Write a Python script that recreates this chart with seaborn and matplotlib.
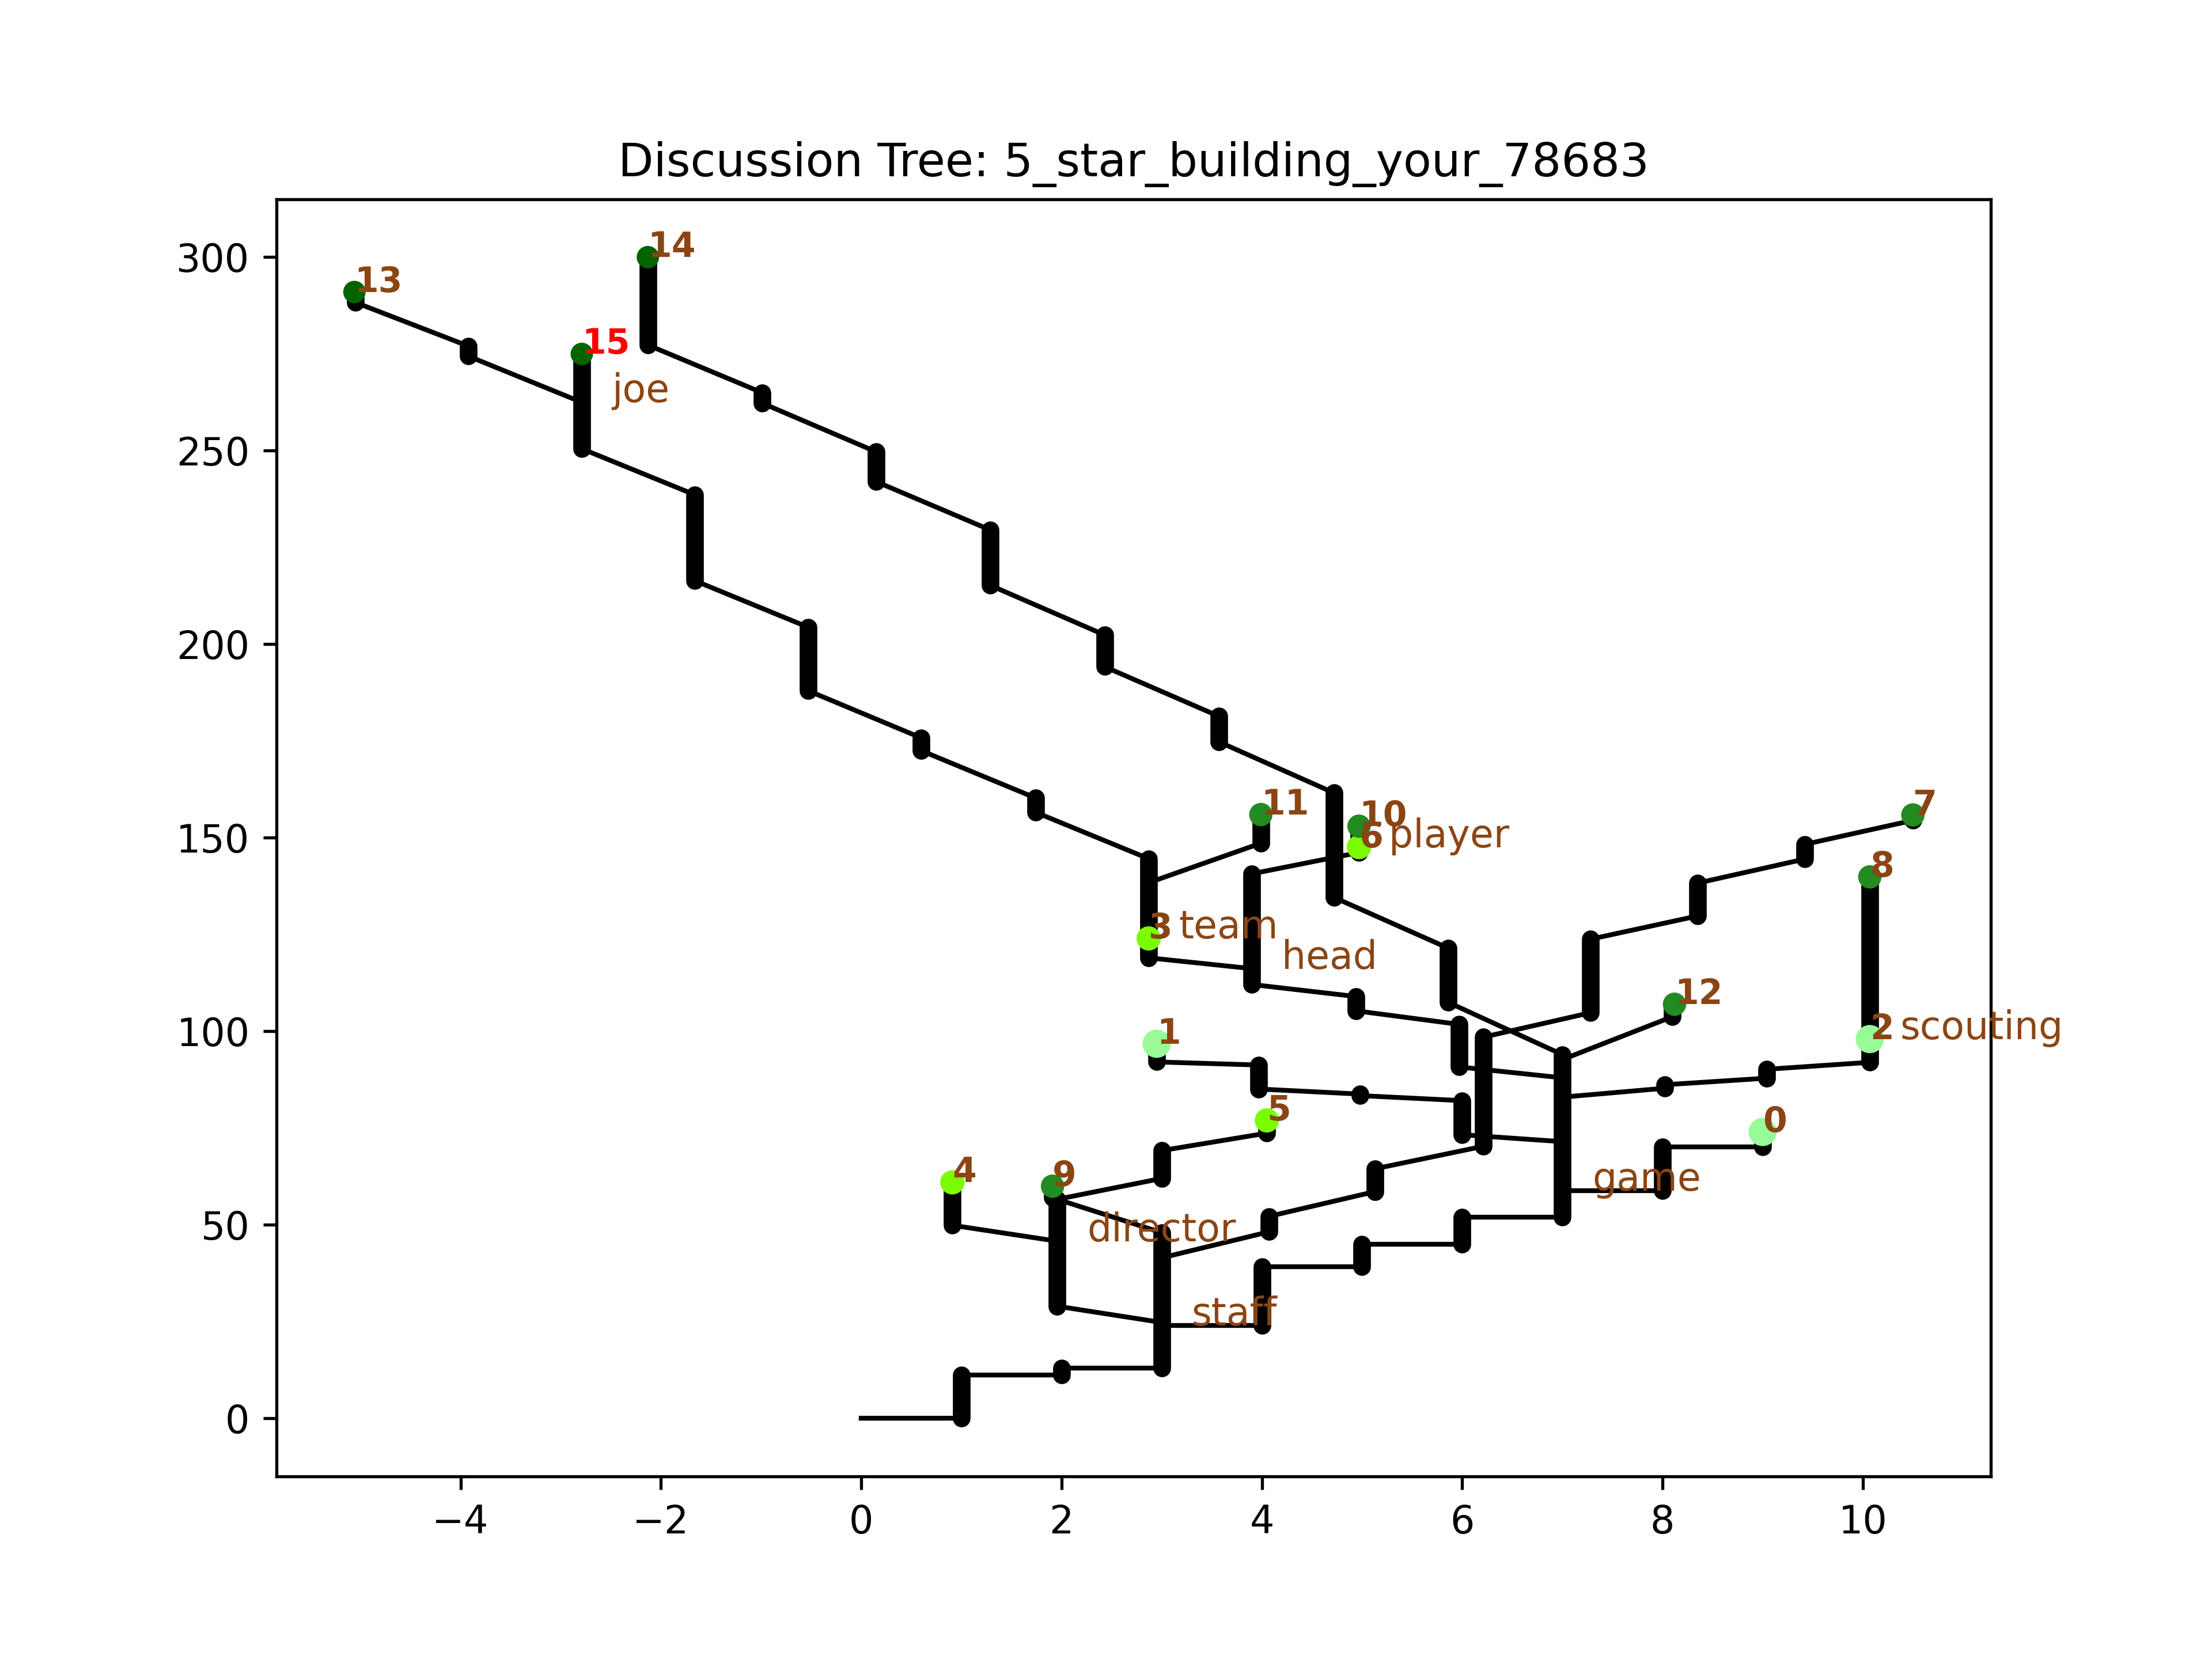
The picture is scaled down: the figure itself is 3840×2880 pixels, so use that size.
import numpy as np
import pandas as pd
import matplotlib
matplotlib.use("Agg")
import matplotlib.pyplot as plt
import seaborn as sns

# thick vertical steps: x position, lower end, upper end
bar_x = [1.0, 2.0, 3.0, 4.0, 5.0, 6.0, 7.0, 8.0, 9.0,
         1.955, 1.91, 0.91, 3.0, 4.05,
         4.07, 5.13, 6.21, 7.28, 8.35, 9.42, 10.5,
         8.02, 9.04, 10.07, 8.1,
         6.0, 4.98, 3.97, 2.95,
         5.97, 4.94, 3.9, 2.87, 3.99, 4.97,
         1.74, 0.60, -0.53, -1.66, -2.79, -3.92, -5.05,
         5.86, 4.72, 3.57, 2.43, 1.29, 0.15, -0.99, -2.13]
bar_lo = [0.0, 11.2, 13.0, 24.0, 39.2, 45.0, 52.0, 58.8, 70.2,
          29.0, 57.0, 49.9, 62.0, 73.7,
          48.2, 58.6, 70.3, 104.8, 129.8, 144.5, 154.5,
          85.3, 87.9, 92.0, 103.8,
          73.3, 83.4, 85.1, 92.1,
          90.8, 105.3, 112.1, 119.0, 148.6, 146.2,
          156.6, 172.5, 188.0, 216.4, 250.5, 274.4, 288.3,
          107.5, 134.6, 174.8, 194.2, 215.2, 242.0, 262.3, 277.3]
bar_hi = [11.2, 13.0, 48.0, 39.2, 45.0, 52.0, 94.0, 70.2, 74.0,
          56.6, 60.0, 61.0, 69.2, 77.0,
          52.2, 64.5, 98.5, 123.8, 138.3, 148.3, 155.9,
          86.2, 90.2, 139.9, 107.0,
          82.1, 83.8, 91.3, 96.8,
          101.8, 109.0, 140.7, 144.6, 156.0, 153.0,
          160.3, 175.8, 204.4, 238.6, 275.0, 277.0, 291.0,
          121.5, 161.6, 181.4, 202.4, 229.5, 249.7, 265.0, 300.0]

# thin connectors between steps
link_x0 = [0.0, 1.0, 2.0, 3.0, 4.0, 5.0, 6.0, 7.0, 8.0,
           3.0, 1.955, 3.0, 1.955, 3.0,
           3.0, 4.07, 5.13, 6.21, 7.28, 8.35, 9.42,
           7.0, 8.02, 9.04, 7.0,
           7.0, 6.0, 4.98, 3.97,
           7.0, 5.97, 4.94, 3.9, 2.87, 3.9,
           2.87, 1.74, 0.60, -0.53, -1.66, -2.79, -3.92,
           7.0, 5.86, 4.72, 3.57, 2.43, 1.29, 0.15, -0.99]
link_y0 = [0.0, 11.2, 13.0, 24.0, 39.2, 45.0, 52.0, 58.8, 70.2,
           24.8, 45.8, 48.0, 56.6, 69.2,
           41.5, 52.2, 64.5, 98.5, 123.8, 138.3, 148.3,
           83.0, 86.2, 90.2, 92.7,
           71.5, 82.1, 83.8, 91.3,
           88.0, 101.8, 109.0, 116.2, 138.4, 140.7,
           144.6, 160.3, 175.8, 204.4, 238.6, 262.5, 277.0,
           94.0, 121.5, 161.6, 181.4, 202.4, 229.5, 249.7, 265.0]
link_x1 = [1.0, 2.0, 3.0, 4.0, 5.0, 6.0, 7.0, 8.0, 9.0,
           1.955, 0.91, 1.91, 3.0, 4.05,
           4.07, 5.13, 6.21, 7.28, 8.35, 9.42, 10.5,
           8.02, 9.04, 10.07, 8.1,
           6.0, 4.98, 3.97, 2.95,
           5.97, 4.94, 3.9, 2.87, 3.99, 4.97,
           1.74, 0.60, -0.53, -1.66, -2.79, -3.92, -5.05,
           5.86, 4.72, 3.57, 2.43, 1.29, 0.15, -0.99, -2.13]
link_y1 = [0.0, 11.2, 13.0, 24.0, 39.2, 45.0, 52.0, 58.8, 70.2,
           29.0, 49.9, 57.0, 62.0, 73.7,
           48.2, 58.6, 70.3, 104.8, 129.8, 144.5, 154.5,
           85.3, 87.9, 92.0, 103.8,
           73.3, 83.4, 85.1, 92.1,
           90.8, 105.3, 112.1, 119.0, 148.6, 146.2,
           156.6, 172.5, 188.0, 216.4, 250.5, 274.4, 288.3,
           107.5, 134.6, 174.8, 194.2, 215.2, 242.0, 262.3, 277.3]

# comment nodes
node_id = [str(i) for i in range(16)]
node_x = [9.0, 2.95, 10.07, 2.87, 0.91, 4.05, 4.97, 10.5, 10.07, 1.91, 4.97, 3.99, 8.12, -5.06, -2.13, -2.79]
node_y = [74.0, 96.8, 98.0, 124.0, 61.0, 77.0, 147.6, 155.9, 139.9, 60.0, 153.0, 156.0, 107.0, 291.0, 300.0, 275.0]
node_color = ["palegreen"] * 3 + ["lawngreen"] * 4 + ["forestgreen"] * 6 + ["darkgreen"] * 3
node_size = [54, 54, 54, 40, 40, 40, 40, 37, 37, 37, 37, 37, 37, 34, 34, 34]
label_color = ["saddlebrown"] * 15 + ["red"]

# keywords at branch points
word_text = ["joe", "player", "team", "head", "scouting", "game", "staff", "director"]
word_x = [-2.79, 4.97, 2.87, 3.9, 10.07, 7.0, 3.0, 1.955]
word_y = [262.5, 147.6, 124.0, 116.2, 98.0, 58.8, 24.0, 45.8]

bars = pd.DataFrame({
    "seg": np.repeat(np.arange(len(bar_x)), 2),
    "x": np.repeat(bar_x, 2),
    "y": np.column_stack([bar_lo, bar_hi]).ravel(),
})
links = pd.DataFrame({
    "seg": np.repeat(np.arange(len(link_x0)), 2),
    "x": np.column_stack([link_x0, link_x1]).ravel(),
    "y": np.column_stack([link_y0, link_y1]).ravel(),
})
nodes = pd.DataFrame({"node": node_id, "x": node_x, "y": node_y})

fig, ax = plt.subplots(figsize=(8, 6))

sns.lineplot(data=links, x="x", y="y", units="seg", estimator=None, sort=False,
             color="black", linewidth=1.25, ax=ax)
sns.lineplot(data=bars, x="x", y="y", units="seg", estimator=None, sort=False,
             color="black", linewidth=4.6, solid_capstyle="round", ax=ax)
sns.scatterplot(data=nodes, x="x", y="y", hue="node", size="node",
                palette=dict(zip(node_id, node_color)),
                sizes=dict(zip(node_id, node_size)),
                linewidth=0, legend=False, zorder=3, ax=ax)

for i in range(len(node_id)):
    ax.text(node_x[i], node_y[i], node_id[i], color=label_color[i],
            fontsize=9, fontweight="bold", ha="left", va="baseline", zorder=4)

for w, x, y in zip(word_text, word_x, word_y):
    ax.text(x + 0.3, y, w, color="saddlebrown", fontsize=10,
            ha="left", va="baseline", zorder=4)

ax.set_title("Discussion Tree: 5_star_building_your_78683")
ax.set_xlabel("")
ax.set_ylabel("")

fig.savefig("out.png", dpi=480)
